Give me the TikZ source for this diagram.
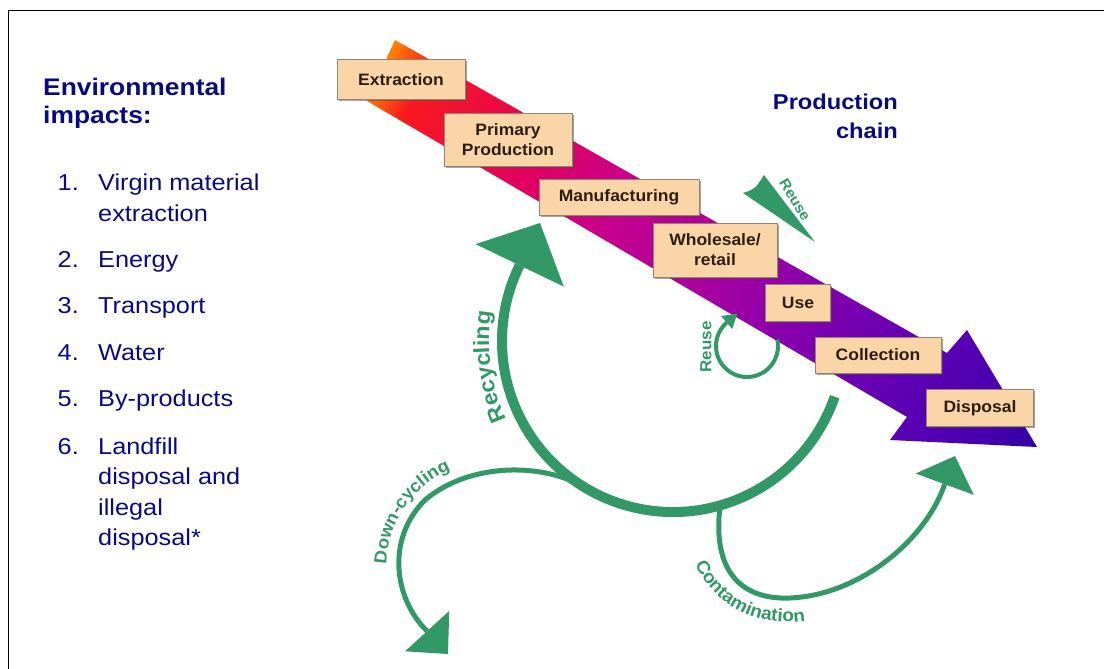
\documentclass[tikz,border=0pt]{standalone}
\usepackage{fontspec}
\setmainfont{Liberation Sans}
\newfontfamily\listfont{Liberation Sans}[FakeStretch=1.1]
\newfontfamily\figfont{Liberation Sans}[FakeStretch=1.06]
\usetikzlibrary{arrows.meta,decorations.text,shadows}

\definecolor{navy}{RGB}{10,10,128}
\definecolor{cycgreen}{RGB}{50,153,102}
\definecolor{boxfill}{RGB}{250,213,168}
\definecolor{boxline}{RGB}{150,130,110}
\definecolor{boxtext}{RGB}{45,30,20}
% colours along the production chain band, tail to head
\definecolor{chainA}{RGB}{255,130,0}
\definecolor{chainB}{RGB}{248,25,30}
\definecolor{chainC}{RGB}{225,0,95}
\definecolor{chainD}{RGB}{200,0,140}
\definecolor{chainE}{RGB}{168,0,160}
\definecolor{chainF}{RGB}{125,0,175}
\definecolor{chainG}{RGB}{95,0,180}
\definecolor{chainI}{RGB}{70,0,175}
\definecolor{chainH}{RGB}{40,0,155}
\pgfdeclarehorizontalshading{chainshade}{340bp}{color(0bp)=(chainA); color(12bp)=(chainA); color(55bp)=(chainB); color(190bp)=(chainC); color(280bp)=(chainD); color(400bp)=(chainE); color(520bp)=(chainF); color(620bp)=(chainG); color(720bp)=(chainI); color(780bp)=(chainH)}

\newcommand\lblrecy{\figfont\bfseries\fontsize{22}{22}\selectfont}
\newcommand\lbldown{\figfont\bfseries\fontsize{17.5}{17.5}\selectfont}
\newcommand\lblcont{\figfont\bfseries\fontsize{18}{18}\selectfont}

\begin{document}
\begin{tikzpicture}[x=1pt,y=-1pt,
  heading/.style={anchor=base west,inner sep=0pt,text=navy,font=\listfont\bfseries\fontsize{24}{27}\selectfont},
  itemnum/.style={anchor=base west,inner sep=0pt,text=navy,font=\listfont\fontsize{23}{30}\selectfont},
  itemtext/.style={anchor=base west,inner sep=0pt,text=navy,font=\listfont\fontsize{23}{30}\selectfont},
  chaintitle/.style={anchor=base east,inner sep=0pt,text=navy,font=\listfont\bfseries\fontsize{21.5}{29}\selectfont},
  chainbox/.style={draw=boxline,fill=boxfill,line width=1pt,text=boxtext,inner sep=0pt,align=center,
    font=\figfont\bfseries\fontsize{16.5}{20}\selectfont,
    drop shadow={shadow xshift=1.5pt,shadow yshift=-1.5pt,fill=black!70,opacity=.5}},
  greenline/.style={color=cycgreen},
  greenlabel/.style={text=cycgreen,inner sep=0pt}
]
\useasboundingbox (0,0) rectangle (1104,669);

% frame
\draw[line width=1.8pt] (8.5,669) -- (8.5,10.5) -- (1104,10.5);

% list of impacts
\node[heading] (h1) at (43,95.7) {Environmental};
\node[heading] (h2) at (43,123.3) {impacts:};
\node[itemnum] (n1) at (57.5,190) {1.};
\node[itemtext] (t1a) at (98,190) {Virgin material};
\node[itemtext] (t1b) at (98,221) {extraction};
\node[itemnum] (n2) at (57.5,267.5) {2.};
\node[itemtext] (t2) at (98,267.5) {Energy};
\node[itemnum] (n3) at (57.5,313) {3.};
\node[itemtext] (t3) at (98,313) {Transport};
\node[itemnum] (n4) at (57.5,360.5) {4.};
\node[itemtext] (t4) at (98,360.5) {Water};
\node[itemnum] (n5) at (57.5,406.7) {5.};
\node[itemtext] (t5) at (98,406.7) {By-products};
\node[itemnum] (n6) at (57.5,454) {6.};
\node[itemtext] (t6a) at (98,454) {Landfill};
\node[itemtext] (t6b) at (98,484.5) {disposal and};
\node[itemtext] (t6c) at (98,515) {illegal};
\node[itemtext] (t6d) at (98,545) {disposal*};

% production chain band (shaded arrow)
\coordinate (tailtop) at (395,40);
\coordinate (tailbot) at (367,101);
\coordinate (shaftlow) at (907,417);
\coordinate (headlow) at (890,440);
\coordinate (headtip) at (1037,447);
\coordinate (headtop) at (967,330);
\coordinate (shaftup) at (947,353);
\coordinate (bandmid) at (709,257.5);
\begin{scope}
  \clip (tailtop) -- (shaftup) -- (headtop) -- (headtip) -- (headlow) -- (shaftlow) -- (tailbot) -- cycle;
  \pgftransformshift{\pgfpointanchor{bandmid}{center}}
  \pgftransformrotate{-29.7}
  \pgflowlevelsynccm
  \pgfuseshading{chainshade}
\end{scope}

\node[chaintitle] (pc1) at (898,110) {Production};
\node[chaintitle] (pc2) at (898,139) {chain};

% stages
\node[chainbox,minimum width=128pt,minimum height=40pt] (extr) at (401,80) {Extraction};
\node[chainbox,minimum width=128pt,minimum height=53pt] (prim) at (508,140) {Primary\\Production};
\node[chainbox,minimum width=160pt,minimum height=36pt] (manu) at (619,197) {Manufacturing};
\node[chainbox,minimum width=124pt,minimum height=54pt] (whol) at (715,250) {Wholesale/\\retail};
\node[chainbox,minimum width=65pt,minimum height=37pt] (use) at (798,303) {Use};
\node[chainbox,minimum width=126pt,minimum height=36pt] (coll) at (878,355) {Collection};
\node[chainbox,minimum width=107pt,minimum height=37pt] (disp) at (980,408) {Disposal};

% recycling loop
\coordinate (cyccen) at (673,341);
\coordinate (recytip) at (540,223);
\draw[greenline,line width=10pt,-{Triangle[length=47pt,width=98pt,line width=0pt]}]
  ([shift={(19:171)}]cyccen) arc[start angle=19,end angle=206,radius=171] -- (recytip);
\path[decorate,decoration={text along path,text align=center,text color=cycgreen,text={|\lblrecy|Recycling}}]
  ([shift={(150:184)}]cyccen) arc[start angle=150,end angle=194,radius=184];

% down-cycling branch
\coordinate (downbase) at (427,631);
\coordinate (downtip) at (448,654);
\draw[greenline,line width=5pt,-{Triangle[length=31pt,width=60pt,line width=0pt]}]
  ([shift={(120:171)}]cyccen) .. controls (545,462) and (470,462) .. (425,500)
  .. controls (385,540) and (395,600) .. (downbase) -- (downtip);
\path[decorate,decoration={text along path,text align={left,left indent=36pt},text color=cycgreen,text={|\lbldown|Down-cycling}}]
  (389,600) .. controls (372,515) and (430,455) .. (510,461);

% contamination branch
\coordinate (contbase) at (944,486);
\coordinate (conttip) at (955,456);
\draw[greenline,line width=5pt,-{Triangle[length=30pt,width=62pt,line width=0pt]}]
  ([shift={(74:171)}]cyccen) .. controls (712,570) and (740,600) .. (790,598)
  .. controls (860,595) and (925,540) .. (contbase) -- (conttip);
\path[decorate,decoration={text along path,text align=left,text color=cycgreen,text={|\lblcont|Contamination}}]
  (695,564) .. controls (712,600) and (745,622) .. (790,622) .. controls (805,622) and (818,619) .. (835,614);

% reuse loop at the use stage
\coordinate (loopcen) at (747,346);
\coordinate (looptip) at (737.3,313.4);
\draw[greenline,line width=4pt,-{Triangle[length=14pt,width=17pt,line width=0pt]}]
  ([shift={(-12:31)}]loopcen) arc[start angle=-12,end angle=229,radius=31] -- (looptip);
\node[greenlabel,rotate=90,font=\figfont\bfseries\fontsize{16}{16}\selectfont] (reuse2) at (706,347) {Reuse};

% reuse dart near wholesale
\coordinate (darttip) at (815,242);
\coordinate (dartlow) at (743,193);
\coordinate (dartup) at (764,175);
\fill[cycgreen] (darttip) -- (dartlow) .. controls (755,189) .. (dartup) -- cycle;
\node[greenlabel,rotate=-59,font=\figfont\bfseries\fontsize{14.5}{14.5}\selectfont] (reuse1) at (795,200) {Reuse};
\end{tikzpicture}
\end{document}
